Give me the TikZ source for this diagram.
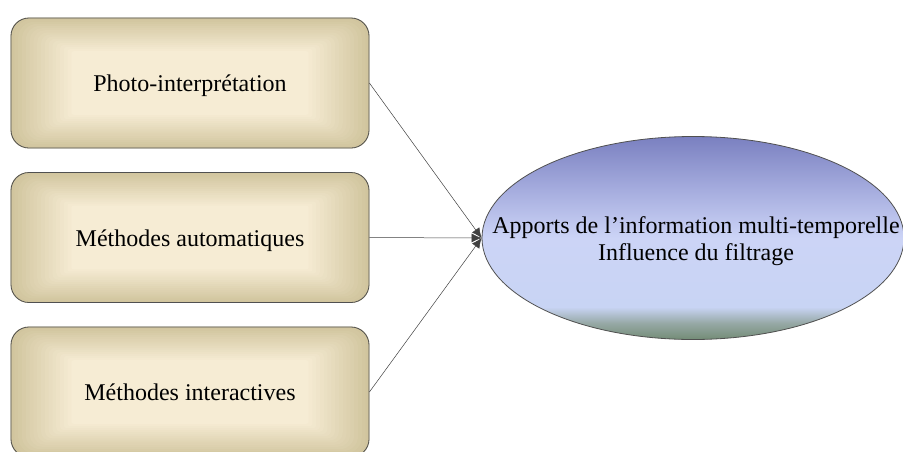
\documentclass[tikz,border=0pt]{standalone}
\usepackage{fontspec}
\setmainfont{Liberation Serif}
\usetikzlibrary{shapes.geometric,arrows.meta,backgrounds}
\definecolor{tanedge}{RGB}{209,197,158}
\definecolor{cream}{RGB}{246,236,212}
\definecolor{bordergrey}{RGB}{80,80,80}
\definecolor{etop}{RGB}{122,128,192}
\definecolor{eupper}{RGB}{165,172,222}
\definecolor{emid}{RGB}{204,212,246}
\definecolor{elow}{RGB}{200,212,244}
\definecolor{egreen}{RGB}{150,168,165}
\definecolor{ebot}{RGB}{115,140,118}
\pgfdeclareverticalshading{ellshade}{100bp}{%
  color(0bp)=(ebot); color(25bp)=(ebot); color(29bp)=(egreen); color(33bp)=(elow);
  color(50bp)=(emid); color(62bp)=(eupper); color(75bp)=(etop); color(100bp)=(etop)}
\tikzset{
  srcbox/.style={draw=bordergrey, line width=0.8pt, rounded corners=18pt,
    minimum width=358pt, minimum height=130pt, inner sep=0pt,
    text height=17pt, text depth=0pt,
    font=\fontsize{24}{28}\selectfont},
  target/.style={ellipse, draw=bordergrey, line width=0.8pt, shading=ellshade,
    minimum width=422pt, minimum height=203pt, inner sep=0pt},
  targettext/.style={align=center, inner sep=0pt, font=\fontsize{24}{27}\selectfont},
  link/.style={draw=black!75, line width=0.5pt,
    -{Latex[length=10pt,width=9pt]}}
}
\begin{document}
\begin{tikzpicture}[x=1pt,y=-1pt]
\useasboundingbox (0,0) rectangle (903,451);
\clip (0,0) rectangle (903,451);
\node[srcbox] (b1) at (190,83) {Photo-interprétation};
\node[srcbox] (b2) at (190,237.5) {Méthodes automatiques};
\node[srcbox] (b3) at (190,392) {Méthodes interactives};
\begin{scope}[on background layer]
\foreach \b in {b1,b2,b3}{
  \foreach \i [evaluate=\i as \p using {int(\i*100/16)},
               evaluate=\i as \r using {max(18-\i*1.1,2)}] in {0,...,16}{
    \fill[cream!\p!tanedge, rounded corners=\r pt]
      ([xshift=\i*3.8pt, yshift=-\i*2.1pt]\b.north west) rectangle
      ([xshift=-\i*3.8pt, yshift=\i*2.1pt]\b.south east);
  }
}
\end{scope}
\node[target] (e) at (693,238) {};
\node[targettext] (et) at (696,241) {Apports de l’information multi-temporelle\\Influence du filtrage};
\draw[link] (b1.east) -- (e.west);
\draw[link] (b2.east) -- (e.west);
\draw[link] (b3.east) -- (e.west);
\end{tikzpicture}
\end{document}
